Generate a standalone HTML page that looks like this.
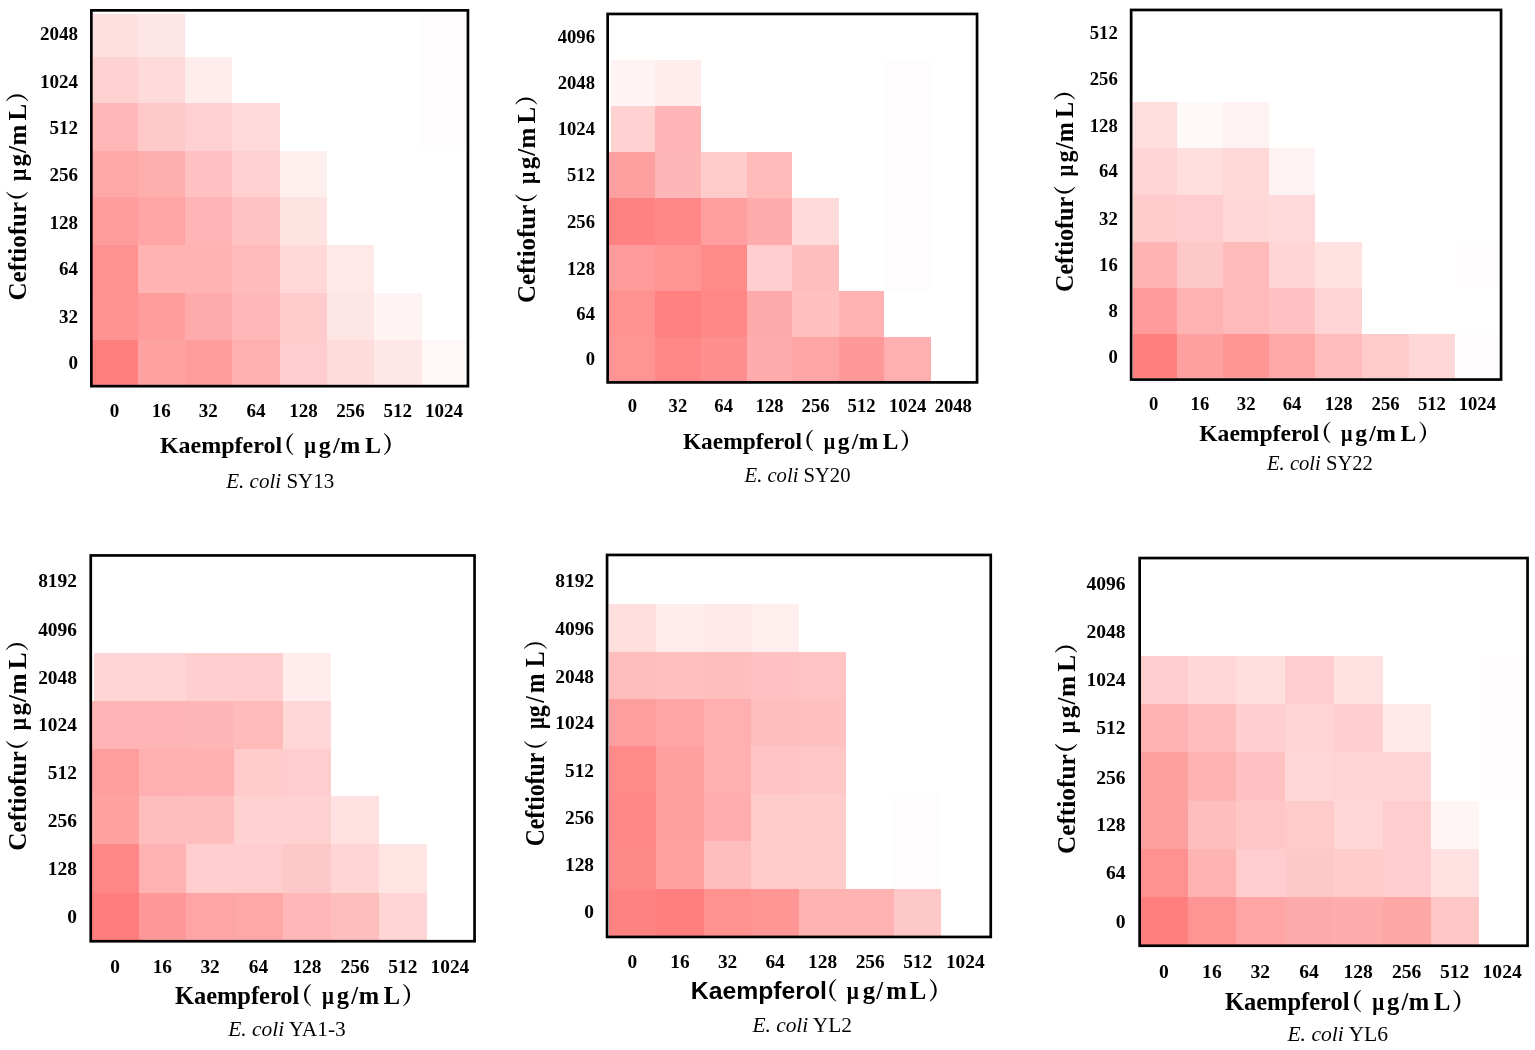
<!DOCTYPE html>
<html><head><meta charset="utf-8"><title>Checkerboard heatmaps</title>
<style>html,body{margin:0;padding:0;background:#fff;overflow:hidden}svg{display:block}</style></head><body>
<div id="fig">
<svg width="1535" height="1050" viewBox="0 0 1535 1050">
<rect width="1535" height="1050" fill="#fff"/>
<g>
<rect x="92.2" y="14" width="45.6" height="43" fill="#ffe0e0" shape-rendering="crispEdges"/>
<rect x="137.8" y="14" width="46.8" height="43" fill="#ffe6e6" shape-rendering="crispEdges"/>
<rect x="421.7" y="14" width="44.7" height="43" fill="#fefcfc" shape-rendering="crispEdges"/>
<rect x="92.2" y="57" width="45.6" height="46.4" fill="#ffd2d2" shape-rendering="crispEdges"/>
<rect x="137.8" y="57" width="46.8" height="46.4" fill="#ffdada" shape-rendering="crispEdges"/>
<rect x="184.6" y="57" width="47.3" height="46.4" fill="#ffeded" shape-rendering="crispEdges"/>
<rect x="421.7" y="57" width="44.7" height="46.4" fill="#fefcfc" shape-rendering="crispEdges"/>
<rect x="92.2" y="103.4" width="45.6" height="47.1" fill="#ffb7b7" shape-rendering="crispEdges"/>
<rect x="137.8" y="103.4" width="46.8" height="47.1" fill="#ffc9c9" shape-rendering="crispEdges"/>
<rect x="184.6" y="103.4" width="47.3" height="47.1" fill="#ffd0d0" shape-rendering="crispEdges"/>
<rect x="231.9" y="103.4" width="48.4" height="47.1" fill="#ffdada" shape-rendering="crispEdges"/>
<rect x="421.7" y="103.4" width="44.7" height="47.1" fill="#fefcfc" shape-rendering="crispEdges"/>
<rect x="92.2" y="150.5" width="45.6" height="46.7" fill="#ffa8a8" shape-rendering="crispEdges"/>
<rect x="137.8" y="150.5" width="46.8" height="46.7" fill="#ffaeae" shape-rendering="crispEdges"/>
<rect x="184.6" y="150.5" width="47.3" height="46.7" fill="#ffc1c1" shape-rendering="crispEdges"/>
<rect x="231.9" y="150.5" width="48.4" height="46.7" fill="#ffd1d1" shape-rendering="crispEdges"/>
<rect x="280.3" y="150.5" width="46.5" height="46.7" fill="#fff0f0" shape-rendering="crispEdges"/>
<rect x="92.2" y="197.2" width="45.6" height="48" fill="#ff9c9c" shape-rendering="crispEdges"/>
<rect x="137.8" y="197.2" width="46.8" height="48" fill="#ffa5a5" shape-rendering="crispEdges"/>
<rect x="184.6" y="197.2" width="47.3" height="48" fill="#ffb5b5" shape-rendering="crispEdges"/>
<rect x="231.9" y="197.2" width="48.4" height="48" fill="#ffc2c2" shape-rendering="crispEdges"/>
<rect x="280.3" y="197.2" width="46.5" height="48" fill="#ffe2e2" shape-rendering="crispEdges"/>
<rect x="92.2" y="245.2" width="45.6" height="47.7" fill="#ff9191" shape-rendering="crispEdges"/>
<rect x="137.8" y="245.2" width="46.8" height="47.7" fill="#ffb3b3" shape-rendering="crispEdges"/>
<rect x="184.6" y="245.2" width="47.3" height="47.7" fill="#ffb3b3" shape-rendering="crispEdges"/>
<rect x="231.9" y="245.2" width="48.4" height="47.7" fill="#ffbbbb" shape-rendering="crispEdges"/>
<rect x="280.3" y="245.2" width="46.5" height="47.7" fill="#ffd8d8" shape-rendering="crispEdges"/>
<rect x="326.8" y="245.2" width="47.2" height="47.7" fill="#ffe8e8" shape-rendering="crispEdges"/>
<rect x="92.2" y="292.9" width="45.6" height="46.6" fill="#ff9393" shape-rendering="crispEdges"/>
<rect x="137.8" y="292.9" width="46.8" height="46.6" fill="#ff9d9d" shape-rendering="crispEdges"/>
<rect x="184.6" y="292.9" width="47.3" height="46.6" fill="#ffabab" shape-rendering="crispEdges"/>
<rect x="231.9" y="292.9" width="48.4" height="46.6" fill="#ffb8b8" shape-rendering="crispEdges"/>
<rect x="280.3" y="292.9" width="46.5" height="46.6" fill="#ffcbcb" shape-rendering="crispEdges"/>
<rect x="326.8" y="292.9" width="47.2" height="46.6" fill="#ffe6e6" shape-rendering="crispEdges"/>
<rect x="374" y="292.9" width="47.7" height="46.6" fill="#fff4f4" shape-rendering="crispEdges"/>
<rect x="92.2" y="339.5" width="45.6" height="45.2" fill="#ff7f7f" shape-rendering="crispEdges"/>
<rect x="137.8" y="339.5" width="46.8" height="45.2" fill="#ffa2a2" shape-rendering="crispEdges"/>
<rect x="184.6" y="339.5" width="47.3" height="45.2" fill="#ff9d9d" shape-rendering="crispEdges"/>
<rect x="231.9" y="339.5" width="48.4" height="45.2" fill="#ffafaf" shape-rendering="crispEdges"/>
<rect x="280.3" y="339.5" width="46.5" height="45.2" fill="#ffcdcd" shape-rendering="crispEdges"/>
<rect x="326.8" y="339.5" width="47.2" height="45.2" fill="#ffdcdc" shape-rendering="crispEdges"/>
<rect x="374" y="339.5" width="47.7" height="45.2" fill="#ffe7e7" shape-rendering="crispEdges"/>
<rect x="421.7" y="339.5" width="44.7" height="45.2" fill="#fff8f8" shape-rendering="crispEdges"/>
<rect x="91.35" y="10.35" width="376.6" height="375.8" fill="none" stroke="#000" stroke-width="2.7"/>
<text x="78" y="40.4" font-family="'Liberation Serif', serif" font-weight="bold" font-size="19" text-anchor="end">2048</text>
<text x="78" y="87.6" font-family="'Liberation Serif', serif" font-weight="bold" font-size="19" text-anchor="end">1024</text>
<text x="78" y="134.3" font-family="'Liberation Serif', serif" font-weight="bold" font-size="19" text-anchor="end">512</text>
<text x="78" y="181" font-family="'Liberation Serif', serif" font-weight="bold" font-size="19" text-anchor="end">256</text>
<text x="78" y="229.1" font-family="'Liberation Serif', serif" font-weight="bold" font-size="19" text-anchor="end">128</text>
<text x="78" y="275.4" font-family="'Liberation Serif', serif" font-weight="bold" font-size="19" text-anchor="end">64</text>
<text x="78" y="322.6" font-family="'Liberation Serif', serif" font-weight="bold" font-size="19" text-anchor="end">32</text>
<text x="78" y="368.9" font-family="'Liberation Serif', serif" font-weight="bold" font-size="19" text-anchor="end">0</text>
<text x="114.4" y="416.5" font-family="'Liberation Serif', serif" font-weight="bold" font-size="19" text-anchor="middle">0</text>
<text x="161.2" y="416.5" font-family="'Liberation Serif', serif" font-weight="bold" font-size="19" text-anchor="middle">16</text>
<text x="208.25" y="416.5" font-family="'Liberation Serif', serif" font-weight="bold" font-size="19" text-anchor="middle">32</text>
<text x="256.1" y="416.5" font-family="'Liberation Serif', serif" font-weight="bold" font-size="19" text-anchor="middle">64</text>
<text x="303.55" y="416.5" font-family="'Liberation Serif', serif" font-weight="bold" font-size="19" text-anchor="middle">128</text>
<text x="350.4" y="416.5" font-family="'Liberation Serif', serif" font-weight="bold" font-size="19" text-anchor="middle">256</text>
<text x="397.85" y="416.5" font-family="'Liberation Serif', serif" font-weight="bold" font-size="19" text-anchor="middle">512</text>
<text x="444.05" y="416.5" font-family="'Liberation Serif', serif" font-weight="bold" font-size="19" text-anchor="middle">1024</text>
<text x="159.9" y="452.6" font-family="'Liberation Serif', serif" font-weight="bold" font-size="24">Kaempferol</text>
<text x="271.78" y="452.6" font-family="'Liberation Serif', 'Noto Serif CJK SC', serif" font-weight="bold" font-size="23">（</text>
<text transform="translate(304.3 452.6) scale(0.86 1)" font-family="'Liberation Serif', serif" font-weight="bold" font-size="24">μ</text>
<text x="318.8" y="452.6" font-family="'Liberation Serif', serif" font-weight="bold" font-size="24">g</text>
<text x="333" y="452.6" font-family="'Liberation Serif', serif" font-weight="bold" font-size="24">/</text>
<text x="340.2" y="452.6" font-family="'Liberation Serif', serif" font-weight="bold" font-size="24">m</text>
<text x="364.9" y="452.6" font-family="'Liberation Serif', serif" font-weight="bold" font-size="24">L</text>
<text x="382.49" y="452.6" font-family="'Liberation Serif', 'Noto Serif CJK SC', serif" font-weight="bold" font-size="23">）</text>
<g transform="translate(25.5 299.5) rotate(-90)"><text transform="translate(-1 0) scale(1 1)" font-family="'Liberation Serif', serif" font-weight="bold" font-size="25">Ceftiofur</text><text transform="translate(86.28 0) scale(1 1)" font-family="'Liberation Serif', 'Noto Serif CJK SC', serif" font-weight="bold" font-size="23">（</text><text transform="translate(118.4 0) scale(0.86 1)" font-family="'Liberation Serif', serif" font-weight="bold" font-size="25">μ</text><text transform="translate(133.1 0) scale(1 1)" font-family="'Liberation Serif', serif" font-weight="bold" font-size="25">g</text><text transform="translate(146.6 0) scale(1 1)" font-family="'Liberation Serif', serif" font-weight="bold" font-size="25">/</text><text transform="translate(154 0) scale(1 1)" font-family="'Liberation Serif', serif" font-weight="bold" font-size="25">m</text><text transform="translate(179.1 0) scale(1 1)" font-family="'Liberation Serif', serif" font-weight="bold" font-size="25">L</text><text transform="translate(196.89 0) scale(1 1)" font-family="'Liberation Serif', 'Noto Serif CJK SC', serif" font-weight="bold" font-size="23">）</text></g>
<text x="226.3" y="487.7" font-family="'Liberation Serif', serif" font-size="21"><tspan font-style="italic">E. coli</tspan> SY13</text>
</g>
<g>
<rect x="611" y="59.9" width="44.2" height="45.9" fill="#fff3f3" shape-rendering="crispEdges"/>
<rect x="655.2" y="59.9" width="45.4" height="45.9" fill="#ffecec" shape-rendering="crispEdges"/>
<rect x="884.4" y="59.9" width="46.5" height="45.9" fill="#fefcfc" shape-rendering="crispEdges"/>
<rect x="611" y="105.8" width="44.2" height="46.1" fill="#ffd2d2" shape-rendering="crispEdges"/>
<rect x="655.2" y="105.8" width="45.4" height="46.1" fill="#ffb5b5" shape-rendering="crispEdges"/>
<rect x="884.4" y="105.8" width="46.5" height="46.1" fill="#fefcfc" shape-rendering="crispEdges"/>
<rect x="609" y="151.9" width="46.2" height="45.7" fill="#ffa0a0" shape-rendering="crispEdges"/>
<rect x="655.2" y="151.9" width="45.4" height="45.7" fill="#ffb6b6" shape-rendering="crispEdges"/>
<rect x="700.6" y="151.9" width="46.1" height="45.7" fill="#ffcbcb" shape-rendering="crispEdges"/>
<rect x="746.7" y="151.9" width="45.7" height="45.7" fill="#ffbaba" shape-rendering="crispEdges"/>
<rect x="884.4" y="151.9" width="46.5" height="45.7" fill="#fefcfc" shape-rendering="crispEdges"/>
<rect x="609" y="197.6" width="46.2" height="47.3" fill="#ff8282" shape-rendering="crispEdges"/>
<rect x="655.2" y="197.6" width="45.4" height="47.3" fill="#ff8787" shape-rendering="crispEdges"/>
<rect x="700.6" y="197.6" width="46.1" height="47.3" fill="#ff9e9e" shape-rendering="crispEdges"/>
<rect x="746.7" y="197.6" width="45.7" height="47.3" fill="#ffacac" shape-rendering="crispEdges"/>
<rect x="792.4" y="197.6" width="46.3" height="47.3" fill="#ffdada" shape-rendering="crispEdges"/>
<rect x="884.4" y="197.6" width="46.5" height="47.3" fill="#fefcfc" shape-rendering="crispEdges"/>
<rect x="609" y="244.9" width="46.2" height="46.1" fill="#ff9b9b" shape-rendering="crispEdges"/>
<rect x="655.2" y="244.9" width="45.4" height="46.1" fill="#ff9494" shape-rendering="crispEdges"/>
<rect x="700.6" y="244.9" width="46.1" height="46.1" fill="#ff8a8a" shape-rendering="crispEdges"/>
<rect x="746.7" y="244.9" width="45.7" height="46.1" fill="#ffcdcd" shape-rendering="crispEdges"/>
<rect x="792.4" y="244.9" width="46.3" height="46.1" fill="#ffbebe" shape-rendering="crispEdges"/>
<rect x="884.4" y="244.9" width="46.5" height="46.1" fill="#fefcfc" shape-rendering="crispEdges"/>
<rect x="609" y="291" width="46.2" height="45.7" fill="#ff9191" shape-rendering="crispEdges"/>
<rect x="655.2" y="291" width="45.4" height="45.7" fill="#ff8080" shape-rendering="crispEdges"/>
<rect x="700.6" y="291" width="46.1" height="45.7" fill="#ff8787" shape-rendering="crispEdges"/>
<rect x="746.7" y="291" width="45.7" height="45.7" fill="#ffaaaa" shape-rendering="crispEdges"/>
<rect x="792.4" y="291" width="46.3" height="45.7" fill="#ffc0c0" shape-rendering="crispEdges"/>
<rect x="838.7" y="291" width="45.7" height="45.7" fill="#ffb2b2" shape-rendering="crispEdges"/>
<rect x="609" y="336.7" width="46.2" height="44.2" fill="#ff9494" shape-rendering="crispEdges"/>
<rect x="655.2" y="336.7" width="45.4" height="44.2" fill="#ff8787" shape-rendering="crispEdges"/>
<rect x="700.6" y="336.7" width="46.1" height="44.2" fill="#ff8e8e" shape-rendering="crispEdges"/>
<rect x="746.7" y="336.7" width="45.7" height="44.2" fill="#ffacac" shape-rendering="crispEdges"/>
<rect x="792.4" y="336.7" width="46.3" height="44.2" fill="#ffa5a5" shape-rendering="crispEdges"/>
<rect x="838.7" y="336.7" width="45.7" height="44.2" fill="#ff9898" shape-rendering="crispEdges"/>
<rect x="884.4" y="336.7" width="46.5" height="44.2" fill="#ffafaf" shape-rendering="crispEdges"/>
<rect x="607.65" y="13.95" width="369.4" height="368.45" fill="none" stroke="#000" stroke-width="2.7"/>
<text x="594.98" y="43.1" font-family="'Liberation Serif', serif" font-weight="bold" font-size="18.64" text-anchor="end">4096</text>
<text x="594.98" y="89.4" font-family="'Liberation Serif', serif" font-weight="bold" font-size="18.64" text-anchor="end">2048</text>
<text x="594.98" y="134.9" font-family="'Liberation Serif', serif" font-weight="bold" font-size="18.64" text-anchor="end">1024</text>
<text x="594.98" y="181.2" font-family="'Liberation Serif', serif" font-weight="bold" font-size="18.64" text-anchor="end">512</text>
<text x="594.98" y="228.3" font-family="'Liberation Serif', serif" font-weight="bold" font-size="18.64" text-anchor="end">256</text>
<text x="594.98" y="274.6" font-family="'Liberation Serif', serif" font-weight="bold" font-size="18.64" text-anchor="end">128</text>
<text x="594.98" y="320" font-family="'Liberation Serif', serif" font-weight="bold" font-size="18.64" text-anchor="end">64</text>
<text x="594.98" y="365.4" font-family="'Liberation Serif', serif" font-weight="bold" font-size="18.64" text-anchor="end">0</text>
<text x="632.5" y="412.2" font-family="'Liberation Serif', serif" font-weight="bold" font-size="18.64" text-anchor="middle">0</text>
<text x="677.9" y="412.2" font-family="'Liberation Serif', serif" font-weight="bold" font-size="18.64" text-anchor="middle">32</text>
<text x="723.65" y="412.2" font-family="'Liberation Serif', serif" font-weight="bold" font-size="18.64" text-anchor="middle">64</text>
<text x="769.55" y="412.2" font-family="'Liberation Serif', serif" font-weight="bold" font-size="18.64" text-anchor="middle">128</text>
<text x="815.55" y="412.2" font-family="'Liberation Serif', serif" font-weight="bold" font-size="18.64" text-anchor="middle">256</text>
<text x="861.55" y="412.2" font-family="'Liberation Serif', serif" font-weight="bold" font-size="18.64" text-anchor="middle">512</text>
<text x="907.65" y="412.2" font-family="'Liberation Serif', serif" font-weight="bold" font-size="18.64" text-anchor="middle">1024</text>
<text x="953.25" y="412.2" font-family="'Liberation Serif', serif" font-weight="bold" font-size="18.64" text-anchor="middle">2048</text>
<text x="682.9" y="448.8" font-family="'Liberation Serif', serif" font-weight="bold" font-size="23.4">Kaempferol</text>
<text x="791.98" y="448.8" font-family="'Liberation Serif', 'Noto Serif CJK SC', serif" font-weight="bold" font-size="22.43">（</text>
<text transform="translate(823.69 448.8) scale(0.86 1)" font-family="'Liberation Serif', serif" font-weight="bold" font-size="23.4">μ</text>
<text x="837.83" y="448.8" font-family="'Liberation Serif', serif" font-weight="bold" font-size="23.4">g</text>
<text x="851.67" y="448.8" font-family="'Liberation Serif', serif" font-weight="bold" font-size="23.4">/</text>
<text x="858.69" y="448.8" font-family="'Liberation Serif', serif" font-weight="bold" font-size="23.4">m</text>
<text x="882.77" y="448.8" font-family="'Liberation Serif', serif" font-weight="bold" font-size="23.4">L</text>
<text x="899.93" y="448.8" font-family="'Liberation Serif', 'Noto Serif CJK SC', serif" font-weight="bold" font-size="22.43">）</text>
<g transform="translate(534.5 302) rotate(-90)"><text transform="translate(-1 0) scale(1 1)" font-family="'Liberation Serif', serif" font-weight="bold" font-size="24.93">Ceftiofur</text><text transform="translate(86.02 0) scale(1 1)" font-family="'Liberation Serif', 'Noto Serif CJK SC', serif" font-weight="bold" font-size="22.93">（</text><text transform="translate(118.04 0) scale(0.86 1)" font-family="'Liberation Serif', serif" font-weight="bold" font-size="24.93">μ</text><text transform="translate(132.7 0) scale(1 1)" font-family="'Liberation Serif', serif" font-weight="bold" font-size="24.93">g</text><text transform="translate(146.16 0) scale(1 1)" font-family="'Liberation Serif', serif" font-weight="bold" font-size="24.93">/</text><text transform="translate(153.54 0) scale(1 1)" font-family="'Liberation Serif', serif" font-weight="bold" font-size="24.93">m</text><text transform="translate(178.56 0) scale(1 1)" font-family="'Liberation Serif', serif" font-weight="bold" font-size="24.93">L</text><text transform="translate(196.3 0) scale(1 1)" font-family="'Liberation Serif', 'Noto Serif CJK SC', serif" font-weight="bold" font-size="22.93">）</text></g>
<text x="744.6" y="481.9" font-family="'Liberation Serif', serif" font-size="20.6"><tspan font-style="italic">E. coli</tspan> SY20</text>
</g>
<g>
<rect x="1132.5" y="102.1" width="44.3" height="46.1" fill="#ffdede" shape-rendering="crispEdges"/>
<rect x="1176.8" y="102.1" width="46.3" height="46.1" fill="#fff8f8" shape-rendering="crispEdges"/>
<rect x="1223.1" y="102.1" width="46.1" height="46.1" fill="#fff2f2" shape-rendering="crispEdges"/>
<rect x="1132.5" y="148.2" width="44.3" height="46.3" fill="#ffd4d4" shape-rendering="crispEdges"/>
<rect x="1176.8" y="148.2" width="46.3" height="46.3" fill="#ffdede" shape-rendering="crispEdges"/>
<rect x="1223.1" y="148.2" width="46.1" height="46.3" fill="#ffd8d8" shape-rendering="crispEdges"/>
<rect x="1269.2" y="148.2" width="45.8" height="46.3" fill="#fff2f2" shape-rendering="crispEdges"/>
<rect x="1132.5" y="194.5" width="44.3" height="47.3" fill="#ffcbcb" shape-rendering="crispEdges"/>
<rect x="1176.8" y="194.5" width="46.3" height="47.3" fill="#ffcdcd" shape-rendering="crispEdges"/>
<rect x="1223.1" y="194.5" width="46.1" height="47.3" fill="#ffd7d7" shape-rendering="crispEdges"/>
<rect x="1269.2" y="194.5" width="45.8" height="47.3" fill="#ffdada" shape-rendering="crispEdges"/>
<rect x="1132.5" y="241.8" width="44.3" height="46.3" fill="#ffb4b4" shape-rendering="crispEdges"/>
<rect x="1176.8" y="241.8" width="46.3" height="46.3" fill="#ffc8c8" shape-rendering="crispEdges"/>
<rect x="1223.1" y="241.8" width="46.1" height="46.3" fill="#ffbaba" shape-rendering="crispEdges"/>
<rect x="1269.2" y="241.8" width="45.8" height="46.3" fill="#ffd5d5" shape-rendering="crispEdges"/>
<rect x="1315" y="241.8" width="47.4" height="46.3" fill="#ffe1e1" shape-rendering="crispEdges"/>
<rect x="1455.1" y="241.8" width="44.5" height="46.3" fill="#fefcfc" shape-rendering="crispEdges"/>
<rect x="1132.5" y="288.1" width="44.3" height="46.2" fill="#ff9b9b" shape-rendering="crispEdges"/>
<rect x="1176.8" y="288.1" width="46.3" height="46.2" fill="#ffb2b2" shape-rendering="crispEdges"/>
<rect x="1223.1" y="288.1" width="46.1" height="46.2" fill="#ffbbbb" shape-rendering="crispEdges"/>
<rect x="1269.2" y="288.1" width="45.8" height="46.2" fill="#ffc1c1" shape-rendering="crispEdges"/>
<rect x="1315" y="288.1" width="47.4" height="46.2" fill="#ffd4d4" shape-rendering="crispEdges"/>
<rect x="1132.5" y="334.3" width="44.3" height="44.1" fill="#ff7f7f" shape-rendering="crispEdges"/>
<rect x="1176.8" y="334.3" width="46.3" height="44.1" fill="#ffa0a0" shape-rendering="crispEdges"/>
<rect x="1223.1" y="334.3" width="46.1" height="44.1" fill="#ff9696" shape-rendering="crispEdges"/>
<rect x="1269.2" y="334.3" width="45.8" height="44.1" fill="#ffa8a8" shape-rendering="crispEdges"/>
<rect x="1315" y="334.3" width="47.4" height="44.1" fill="#ffbcbc" shape-rendering="crispEdges"/>
<rect x="1362.4" y="334.3" width="46.3" height="44.1" fill="#ffcaca" shape-rendering="crispEdges"/>
<rect x="1408.7" y="334.3" width="46.4" height="44.1" fill="#ffd7d7" shape-rendering="crispEdges"/>
<rect x="1455.1" y="334.3" width="44.5" height="44.1" fill="#fefcfc" shape-rendering="crispEdges"/>
<rect x="1131.15" y="9.95" width="369.9" height="369.6" fill="none" stroke="#000" stroke-width="2.7"/>
<text x="1117.78" y="39" font-family="'Liberation Serif', serif" font-weight="bold" font-size="18.66" text-anchor="end">512</text>
<text x="1117.78" y="85.3" font-family="'Liberation Serif', serif" font-weight="bold" font-size="18.66" text-anchor="end">256</text>
<text x="1117.78" y="131.6" font-family="'Liberation Serif', serif" font-weight="bold" font-size="18.66" text-anchor="end">128</text>
<text x="1117.78" y="177" font-family="'Liberation Serif', serif" font-weight="bold" font-size="18.66" text-anchor="end">64</text>
<text x="1117.78" y="225.1" font-family="'Liberation Serif', serif" font-weight="bold" font-size="18.66" text-anchor="end">32</text>
<text x="1117.78" y="271.4" font-family="'Liberation Serif', serif" font-weight="bold" font-size="18.66" text-anchor="end">16</text>
<text x="1117.78" y="316.9" font-family="'Liberation Serif', serif" font-weight="bold" font-size="18.66" text-anchor="end">8</text>
<text x="1117.78" y="363.2" font-family="'Liberation Serif', serif" font-weight="bold" font-size="18.66" text-anchor="end">0</text>
<text x="1153.65" y="409.9" font-family="'Liberation Serif', serif" font-weight="bold" font-size="18.66" text-anchor="middle">0</text>
<text x="1199.95" y="409.9" font-family="'Liberation Serif', serif" font-weight="bold" font-size="18.66" text-anchor="middle">16</text>
<text x="1246.15" y="409.9" font-family="'Liberation Serif', serif" font-weight="bold" font-size="18.66" text-anchor="middle">32</text>
<text x="1292.1" y="409.9" font-family="'Liberation Serif', serif" font-weight="bold" font-size="18.66" text-anchor="middle">64</text>
<text x="1338.7" y="409.9" font-family="'Liberation Serif', serif" font-weight="bold" font-size="18.66" text-anchor="middle">128</text>
<text x="1385.55" y="409.9" font-family="'Liberation Serif', serif" font-weight="bold" font-size="18.66" text-anchor="middle">256</text>
<text x="1431.9" y="409.9" font-family="'Liberation Serif', serif" font-weight="bold" font-size="18.66" text-anchor="middle">512</text>
<text x="1477.35" y="409.9" font-family="'Liberation Serif', serif" font-weight="bold" font-size="18.66" text-anchor="middle">1024</text>
<text x="1199.3" y="441.2" font-family="'Liberation Serif', serif" font-weight="bold" font-size="23.57">Kaempferol</text>
<text x="1309.17" y="441.2" font-family="'Liberation Serif', 'Noto Serif CJK SC', serif" font-weight="bold" font-size="22.59">（</text>
<text transform="translate(1341.1 441.2) scale(0.86 1)" font-family="'Liberation Serif', serif" font-weight="bold" font-size="23.57">μ</text>
<text x="1355.34" y="441.2" font-family="'Liberation Serif', serif" font-weight="bold" font-size="23.57">g</text>
<text x="1369.28" y="441.2" font-family="'Liberation Serif', serif" font-weight="bold" font-size="23.57">/</text>
<text x="1376.35" y="441.2" font-family="'Liberation Serif', serif" font-weight="bold" font-size="23.57">m</text>
<text x="1400.61" y="441.2" font-family="'Liberation Serif', serif" font-weight="bold" font-size="23.57">L</text>
<text x="1417.88" y="441.2" font-family="'Liberation Serif', 'Noto Serif CJK SC', serif" font-weight="bold" font-size="22.59">）</text>
<g transform="translate(1072.6 291.1) rotate(-90)"><text transform="translate(-0.97 0) scale(1 1)" font-family="'Liberation Serif', serif" font-weight="bold" font-size="24.18">Ceftiofur</text><text transform="translate(83.43 0) scale(1 1)" font-family="'Liberation Serif', 'Noto Serif CJK SC', serif" font-weight="bold" font-size="22.24">（</text><text transform="translate(114.49 0) scale(0.86 1)" font-family="'Liberation Serif', serif" font-weight="bold" font-size="24.18">μ</text><text transform="translate(128.71 0) scale(1 1)" font-family="'Liberation Serif', serif" font-weight="bold" font-size="24.18">g</text><text transform="translate(141.76 0) scale(1 1)" font-family="'Liberation Serif', serif" font-weight="bold" font-size="24.18">/</text><text transform="translate(148.92 0) scale(1 1)" font-family="'Liberation Serif', serif" font-weight="bold" font-size="24.18">m</text><text transform="translate(173.19 0) scale(1 1)" font-family="'Liberation Serif', serif" font-weight="bold" font-size="24.18">L</text><text transform="translate(190.39 0) scale(1 1)" font-family="'Liberation Serif', 'Noto Serif CJK SC', serif" font-weight="bold" font-size="22.24">）</text></g>
<text x="1267" y="470.4" font-family="'Liberation Serif', serif" font-size="20.62"><tspan font-style="italic">E. coli</tspan> SY22</text>
</g>
<g>
<rect x="94.1" y="652.9" width="44.6" height="48" fill="#ffd5d5" shape-rendering="crispEdges"/>
<rect x="138.7" y="652.9" width="47.3" height="48" fill="#ffd5d5" shape-rendering="crispEdges"/>
<rect x="186" y="652.9" width="48.2" height="48" fill="#ffcece" shape-rendering="crispEdges"/>
<rect x="234.2" y="652.9" width="48.7" height="48" fill="#ffcece" shape-rendering="crispEdges"/>
<rect x="282.9" y="652.9" width="48.1" height="48" fill="#ffecec" shape-rendering="crispEdges"/>
<rect x="91.9" y="700.9" width="46.8" height="47.9" fill="#ffb5b5" shape-rendering="crispEdges"/>
<rect x="138.7" y="700.9" width="47.3" height="47.9" fill="#ffb5b5" shape-rendering="crispEdges"/>
<rect x="186" y="700.9" width="48.2" height="47.9" fill="#ffb6b6" shape-rendering="crispEdges"/>
<rect x="234.2" y="700.9" width="48.7" height="47.9" fill="#ffbaba" shape-rendering="crispEdges"/>
<rect x="282.9" y="700.9" width="48.1" height="47.9" fill="#ffd7d7" shape-rendering="crispEdges"/>
<rect x="91.9" y="748.8" width="46.8" height="47.2" fill="#ff9e9e" shape-rendering="crispEdges"/>
<rect x="138.7" y="748.8" width="47.3" height="47.2" fill="#ffafaf" shape-rendering="crispEdges"/>
<rect x="186" y="748.8" width="48.2" height="47.2" fill="#ffb0b0" shape-rendering="crispEdges"/>
<rect x="234.2" y="748.8" width="48.7" height="47.2" fill="#ffcbcb" shape-rendering="crispEdges"/>
<rect x="282.9" y="748.8" width="48.1" height="47.2" fill="#ffcdcd" shape-rendering="crispEdges"/>
<rect x="91.9" y="796" width="46.8" height="48.4" fill="#ffa2a2" shape-rendering="crispEdges"/>
<rect x="138.7" y="796" width="47.3" height="48.4" fill="#ffbebe" shape-rendering="crispEdges"/>
<rect x="186" y="796" width="48.2" height="48.4" fill="#ffbebe" shape-rendering="crispEdges"/>
<rect x="234.2" y="796" width="48.7" height="48.4" fill="#ffd2d2" shape-rendering="crispEdges"/>
<rect x="282.9" y="796" width="48.1" height="48.4" fill="#ffd2d2" shape-rendering="crispEdges"/>
<rect x="331" y="796" width="48" height="48.4" fill="#ffe1e1" shape-rendering="crispEdges"/>
<rect x="91.9" y="844.4" width="46.8" height="48.2" fill="#ff8787" shape-rendering="crispEdges"/>
<rect x="138.7" y="844.4" width="47.3" height="48.2" fill="#ffb2b2" shape-rendering="crispEdges"/>
<rect x="186" y="844.4" width="48.2" height="48.2" fill="#ffcdcd" shape-rendering="crispEdges"/>
<rect x="234.2" y="844.4" width="48.7" height="48.2" fill="#ffcdcd" shape-rendering="crispEdges"/>
<rect x="282.9" y="844.4" width="48.1" height="48.2" fill="#ffc8c8" shape-rendering="crispEdges"/>
<rect x="331" y="844.4" width="48" height="48.2" fill="#ffd5d5" shape-rendering="crispEdges"/>
<rect x="379" y="844.4" width="47.7" height="48.2" fill="#ffe4e4" shape-rendering="crispEdges"/>
<rect x="91.9" y="892.6" width="46.8" height="46.9" fill="#ff7d7d" shape-rendering="crispEdges"/>
<rect x="138.7" y="892.6" width="47.3" height="46.9" fill="#ff9898" shape-rendering="crispEdges"/>
<rect x="186" y="892.6" width="48.2" height="46.9" fill="#ffa5a5" shape-rendering="crispEdges"/>
<rect x="234.2" y="892.6" width="48.7" height="46.9" fill="#ffa8a8" shape-rendering="crispEdges"/>
<rect x="282.9" y="892.6" width="48.1" height="46.9" fill="#ffb7b7" shape-rendering="crispEdges"/>
<rect x="331" y="892.6" width="48" height="46.9" fill="#ffbebe" shape-rendering="crispEdges"/>
<rect x="379" y="892.6" width="47.7" height="46.9" fill="#ffd5d5" shape-rendering="crispEdges"/>
<rect x="90.75" y="555.45" width="383.8" height="385.8" fill="none" stroke="#000" stroke-width="2.7"/>
<text x="76.92" y="587.4" font-family="'Liberation Serif', serif" font-weight="bold" font-size="19.36" text-anchor="end">8192</text>
<text x="76.92" y="636.3" font-family="'Liberation Serif', serif" font-weight="bold" font-size="19.36" text-anchor="end">4096</text>
<text x="76.92" y="684.3" font-family="'Liberation Serif', serif" font-weight="bold" font-size="19.36" text-anchor="end">2048</text>
<text x="76.92" y="731.4" font-family="'Liberation Serif', serif" font-weight="bold" font-size="19.36" text-anchor="end">1024</text>
<text x="76.92" y="779.4" font-family="'Liberation Serif', serif" font-weight="bold" font-size="19.36" text-anchor="end">512</text>
<text x="76.92" y="827.4" font-family="'Liberation Serif', serif" font-weight="bold" font-size="19.36" text-anchor="end">256</text>
<text x="76.92" y="875.4" font-family="'Liberation Serif', serif" font-weight="bold" font-size="19.36" text-anchor="end">128</text>
<text x="76.92" y="923.3" font-family="'Liberation Serif', serif" font-weight="bold" font-size="19.36" text-anchor="end">0</text>
<text x="115.05" y="972.9" font-family="'Liberation Serif', serif" font-weight="bold" font-size="19.36" text-anchor="middle">0</text>
<text x="162.35" y="972.9" font-family="'Liberation Serif', serif" font-weight="bold" font-size="19.36" text-anchor="middle">16</text>
<text x="210.1" y="972.9" font-family="'Liberation Serif', serif" font-weight="bold" font-size="19.36" text-anchor="middle">32</text>
<text x="258.55" y="972.9" font-family="'Liberation Serif', serif" font-weight="bold" font-size="19.36" text-anchor="middle">64</text>
<text x="306.95" y="972.9" font-family="'Liberation Serif', serif" font-weight="bold" font-size="19.36" text-anchor="middle">128</text>
<text x="355" y="972.9" font-family="'Liberation Serif', serif" font-weight="bold" font-size="19.36" text-anchor="middle">256</text>
<text x="402.85" y="972.9" font-family="'Liberation Serif', serif" font-weight="bold" font-size="19.36" text-anchor="middle">512</text>
<text x="449.9" y="972.9" font-family="'Liberation Serif', serif" font-weight="bold" font-size="19.36" text-anchor="middle">1024</text>
<text x="174.9" y="1004.4" font-family="'Liberation Serif', serif" font-weight="bold" font-size="24.46">Kaempferol</text>
<text x="288.91" y="1004.4" font-family="'Liberation Serif', 'Noto Serif CJK SC', serif" font-weight="bold" font-size="23.44">（</text>
<text transform="translate(322.04 1004.4) scale(0.86 1)" font-family="'Liberation Serif', serif" font-weight="bold" font-size="24.46">μ</text>
<text x="336.82" y="1004.4" font-family="'Liberation Serif', serif" font-weight="bold" font-size="24.46">g</text>
<text x="351.29" y="1004.4" font-family="'Liberation Serif', serif" font-weight="bold" font-size="24.46">/</text>
<text x="358.63" y="1004.4" font-family="'Liberation Serif', serif" font-weight="bold" font-size="24.46">m</text>
<text x="383.79" y="1004.4" font-family="'Liberation Serif', serif" font-weight="bold" font-size="24.46">L</text>
<text x="401.72" y="1004.4" font-family="'Liberation Serif', 'Noto Serif CJK SC', serif" font-weight="bold" font-size="23.44">）</text>
<g transform="translate(25.9 849.7) rotate(-90)"><text transform="translate(-1.01 0) scale(1 1)" font-family="'Liberation Serif', serif" font-weight="bold" font-size="25.2">Ceftiofur</text><text transform="translate(86.97 0) scale(1 1)" font-family="'Liberation Serif', 'Noto Serif CJK SC', serif" font-weight="bold" font-size="23.18">（</text><text transform="translate(119.35 0) scale(0.86 1)" font-family="'Liberation Serif', serif" font-weight="bold" font-size="25.2">μ</text><text transform="translate(134.16 0) scale(1 1)" font-family="'Liberation Serif', serif" font-weight="bold" font-size="25.2">g</text><text transform="translate(147.77 0) scale(1 1)" font-family="'Liberation Serif', serif" font-weight="bold" font-size="25.2">/</text><text transform="translate(155.23 0) scale(1 1)" font-family="'Liberation Serif', serif" font-weight="bold" font-size="25.2">m</text><text transform="translate(180.53 0) scale(1 1)" font-family="'Liberation Serif', serif" font-weight="bold" font-size="25.2">L</text><text transform="translate(198.47 0) scale(1 1)" font-family="'Liberation Serif', 'Noto Serif CJK SC', serif" font-weight="bold" font-size="23.18">）</text></g>
<text x="228.3" y="1035.7" font-family="'Liberation Serif', serif" font-size="21.4"><tspan font-style="italic">E. coli</tspan> YA1-3</text>
</g>
<g>
<rect x="608.6" y="604.4" width="47.6" height="47.3" fill="#ffdede" shape-rendering="crispEdges"/>
<rect x="656.2" y="604.4" width="47.6" height="47.3" fill="#ffecec" shape-rendering="crispEdges"/>
<rect x="703.8" y="604.4" width="47.6" height="47.3" fill="#ffe9e9" shape-rendering="crispEdges"/>
<rect x="751.4" y="604.4" width="47.4" height="47.3" fill="#ffeeee" shape-rendering="crispEdges"/>
<rect x="608.6" y="651.7" width="47.6" height="47.2" fill="#ffbebe" shape-rendering="crispEdges"/>
<rect x="656.2" y="651.7" width="47.6" height="47.2" fill="#ffc0c0" shape-rendering="crispEdges"/>
<rect x="703.8" y="651.7" width="47.6" height="47.2" fill="#ffbebe" shape-rendering="crispEdges"/>
<rect x="751.4" y="651.7" width="47.4" height="47.2" fill="#ffc1c1" shape-rendering="crispEdges"/>
<rect x="798.8" y="651.7" width="47.6" height="47.2" fill="#ffc3c3" shape-rendering="crispEdges"/>
<rect x="608.6" y="698.9" width="47.6" height="47.3" fill="#ff9e9e" shape-rendering="crispEdges"/>
<rect x="656.2" y="698.9" width="47.6" height="47.3" fill="#ffa5a5" shape-rendering="crispEdges"/>
<rect x="703.8" y="698.9" width="47.6" height="47.3" fill="#ffafaf" shape-rendering="crispEdges"/>
<rect x="751.4" y="698.9" width="47.4" height="47.3" fill="#ffbebe" shape-rendering="crispEdges"/>
<rect x="798.8" y="698.9" width="47.6" height="47.3" fill="#ffc0c0" shape-rendering="crispEdges"/>
<rect x="608.6" y="746.2" width="47.6" height="47.4" fill="#ff8a8a" shape-rendering="crispEdges"/>
<rect x="656.2" y="746.2" width="47.6" height="47.4" fill="#ffa0a0" shape-rendering="crispEdges"/>
<rect x="703.8" y="746.2" width="47.6" height="47.4" fill="#ffafaf" shape-rendering="crispEdges"/>
<rect x="751.4" y="746.2" width="47.4" height="47.4" fill="#ffc3c3" shape-rendering="crispEdges"/>
<rect x="798.8" y="746.2" width="47.6" height="47.4" fill="#ffc6c6" shape-rendering="crispEdges"/>
<rect x="608.6" y="793.6" width="47.6" height="47.6" fill="#ff8787" shape-rendering="crispEdges"/>
<rect x="656.2" y="793.6" width="47.6" height="47.6" fill="#ffa0a0" shape-rendering="crispEdges"/>
<rect x="703.8" y="793.6" width="47.6" height="47.6" fill="#ffadad" shape-rendering="crispEdges"/>
<rect x="751.4" y="793.6" width="47.4" height="47.6" fill="#ffcaca" shape-rendering="crispEdges"/>
<rect x="798.8" y="793.6" width="47.6" height="47.6" fill="#ffcbcb" shape-rendering="crispEdges"/>
<rect x="894" y="793.6" width="47.3" height="47.6" fill="#fefcfc" shape-rendering="crispEdges"/>
<rect x="608.6" y="841.2" width="47.6" height="47.6" fill="#ff8989" shape-rendering="crispEdges"/>
<rect x="656.2" y="841.2" width="47.6" height="47.6" fill="#ffa2a2" shape-rendering="crispEdges"/>
<rect x="703.8" y="841.2" width="47.6" height="47.6" fill="#ffbebe" shape-rendering="crispEdges"/>
<rect x="751.4" y="841.2" width="47.4" height="47.6" fill="#ffcbcb" shape-rendering="crispEdges"/>
<rect x="798.8" y="841.2" width="47.6" height="47.6" fill="#ffcbcb" shape-rendering="crispEdges"/>
<rect x="894" y="841.2" width="47.3" height="47.6" fill="#fefcfc" shape-rendering="crispEdges"/>
<rect x="608.6" y="888.8" width="47.6" height="46.7" fill="#ff8282" shape-rendering="crispEdges"/>
<rect x="656.2" y="888.8" width="47.6" height="46.7" fill="#ff7f7f" shape-rendering="crispEdges"/>
<rect x="703.8" y="888.8" width="47.6" height="46.7" fill="#ff9191" shape-rendering="crispEdges"/>
<rect x="751.4" y="888.8" width="47.4" height="46.7" fill="#ff9696" shape-rendering="crispEdges"/>
<rect x="798.8" y="888.8" width="47.6" height="46.7" fill="#ffb2b2" shape-rendering="crispEdges"/>
<rect x="846.4" y="888.8" width="47.6" height="46.7" fill="#ffb2b2" shape-rendering="crispEdges"/>
<rect x="894" y="888.8" width="47.3" height="46.7" fill="#ffc8c8" shape-rendering="crispEdges"/>
<rect x="607.05" y="554.95" width="383.7" height="382" fill="none" stroke="#000" stroke-width="2.7"/>
<text x="594.02" y="587.4" font-family="'Liberation Serif', serif" font-weight="bold" font-size="19.36" text-anchor="end">8192</text>
<text x="594.02" y="634.6" font-family="'Liberation Serif', serif" font-weight="bold" font-size="19.36" text-anchor="end">4096</text>
<text x="594.02" y="682.6" font-family="'Liberation Serif', serif" font-weight="bold" font-size="19.36" text-anchor="end">2048</text>
<text x="594.02" y="728.9" font-family="'Liberation Serif', serif" font-weight="bold" font-size="19.36" text-anchor="end">1024</text>
<text x="594.02" y="776.9" font-family="'Liberation Serif', serif" font-weight="bold" font-size="19.36" text-anchor="end">512</text>
<text x="594.02" y="824" font-family="'Liberation Serif', serif" font-weight="bold" font-size="19.36" text-anchor="end">256</text>
<text x="594.02" y="871.1" font-family="'Liberation Serif', serif" font-weight="bold" font-size="19.36" text-anchor="end">128</text>
<text x="594.02" y="918.3" font-family="'Liberation Serif', serif" font-weight="bold" font-size="19.36" text-anchor="end">0</text>
<text x="632.4" y="968.3" font-family="'Liberation Serif', serif" font-weight="bold" font-size="19.36" text-anchor="middle">0</text>
<text x="680" y="968.3" font-family="'Liberation Serif', serif" font-weight="bold" font-size="19.36" text-anchor="middle">16</text>
<text x="727.6" y="968.3" font-family="'Liberation Serif', serif" font-weight="bold" font-size="19.36" text-anchor="middle">32</text>
<text x="775.1" y="968.3" font-family="'Liberation Serif', serif" font-weight="bold" font-size="19.36" text-anchor="middle">64</text>
<text x="822.6" y="968.3" font-family="'Liberation Serif', serif" font-weight="bold" font-size="19.36" text-anchor="middle">128</text>
<text x="870.2" y="968.3" font-family="'Liberation Serif', serif" font-weight="bold" font-size="19.36" text-anchor="middle">256</text>
<text x="917.65" y="968.3" font-family="'Liberation Serif', serif" font-weight="bold" font-size="19.36" text-anchor="middle">512</text>
<text x="965.3" y="968.3" font-family="'Liberation Serif', serif" font-weight="bold" font-size="19.36" text-anchor="middle">1024</text>
<text x="690.81" y="998.7" font-family="'Liberation Sans', sans-serif" font-weight="bold" font-size="24.75">Kaempferol</text>
<text x="814.1" y="998.7" font-family="'Liberation Serif', 'Noto Serif CJK SC', serif" font-weight="bold" font-size="23.76">（</text>
<text transform="translate(846.83 998.7) scale(0.86 1)" font-family="'Liberation Serif', serif" font-weight="bold" font-size="24.75">μ</text>
<text x="862.67" y="998.7" font-family="'Liberation Serif', serif" font-weight="bold" font-size="24.75">g</text>
<text x="876.24" y="998.7" font-family="'Liberation Serif', serif" font-weight="bold" font-size="24.75">/</text>
<text x="886.14" y="998.7" font-family="'Liberation Serif', serif" font-weight="bold" font-size="24.75">m</text>
<text x="909.8" y="998.7" font-family="'Liberation Serif', serif" font-weight="bold" font-size="24.75">L</text>
<text x="928.23" y="998.7" font-family="'Liberation Serif', 'Noto Serif CJK SC', serif" font-weight="bold" font-size="23.76">）</text>
<g transform="translate(544.3 845.4) rotate(-90)"><text transform="translate(-0.95 0) scale(0.95 1.06)" font-family="'Liberation Serif', serif" font-weight="bold" font-size="25">Ceftiofur</text><text transform="translate(83.57 0) scale(0.95 1.06)" font-family="'Liberation Serif', 'Noto Serif CJK SC', serif" font-weight="bold" font-size="23">（</text><text transform="translate(116.4 0) scale(0.82 1.06)" font-family="'Liberation Serif', serif" font-weight="bold" font-size="25">μ</text><text transform="translate(128.05 0) scale(0.95 1.06)" font-family="'Liberation Serif', serif" font-weight="bold" font-size="25">g</text><text transform="translate(142.7 0) scale(0.95 1.06)" font-family="'Liberation Serif', serif" font-weight="bold" font-size="25">/</text><text transform="translate(152.05 0) scale(0.95 1.06)" font-family="'Liberation Serif', serif" font-weight="bold" font-size="25">m</text><text transform="translate(178.2 0) scale(0.95 1.06)" font-family="'Liberation Serif', serif" font-weight="bold" font-size="25">L</text><text transform="translate(195.47 0) scale(0.95 1.06)" font-family="'Liberation Serif', 'Noto Serif CJK SC', serif" font-weight="bold" font-size="23">）</text></g>
<text x="752.4" y="1031.8" font-family="'Liberation Serif', serif" font-size="21.4"><tspan font-style="italic">E. coli</tspan> YL2</text>
</g>
<g>
<rect x="1141.2" y="655.7" width="46.7" height="48.2" fill="#ffcdcd" shape-rendering="crispEdges"/>
<rect x="1187.9" y="655.7" width="48" height="48.2" fill="#ffd7d7" shape-rendering="crispEdges"/>
<rect x="1235.9" y="655.7" width="48.7" height="48.2" fill="#ffdede" shape-rendering="crispEdges"/>
<rect x="1284.6" y="655.7" width="48.9" height="48.2" fill="#ffcdcd" shape-rendering="crispEdges"/>
<rect x="1333.5" y="655.7" width="49.1" height="48.2" fill="#ffe1e1" shape-rendering="crispEdges"/>
<rect x="1478.8" y="655.7" width="46.7" height="48.2" fill="#fefcfc" shape-rendering="crispEdges"/>
<rect x="1141.2" y="703.9" width="46.7" height="48" fill="#ffb2b2" shape-rendering="crispEdges"/>
<rect x="1187.9" y="703.9" width="48" height="48" fill="#ffbcbc" shape-rendering="crispEdges"/>
<rect x="1235.9" y="703.9" width="48.7" height="48" fill="#ffcfcf" shape-rendering="crispEdges"/>
<rect x="1284.6" y="703.9" width="48.9" height="48" fill="#ffd4d4" shape-rendering="crispEdges"/>
<rect x="1333.5" y="703.9" width="49.1" height="48" fill="#ffcece" shape-rendering="crispEdges"/>
<rect x="1382.6" y="703.9" width="48" height="48" fill="#ffe9e9" shape-rendering="crispEdges"/>
<rect x="1478.8" y="703.9" width="46.7" height="48" fill="#fefcfc" shape-rendering="crispEdges"/>
<rect x="1141.2" y="751.9" width="46.7" height="48.6" fill="#ffa0a0" shape-rendering="crispEdges"/>
<rect x="1187.9" y="751.9" width="48" height="48.6" fill="#ffb4b4" shape-rendering="crispEdges"/>
<rect x="1235.9" y="751.9" width="48.7" height="48.6" fill="#ffc1c1" shape-rendering="crispEdges"/>
<rect x="1284.6" y="751.9" width="48.9" height="48.6" fill="#ffd7d7" shape-rendering="crispEdges"/>
<rect x="1333.5" y="751.9" width="49.1" height="48.6" fill="#ffd4d4" shape-rendering="crispEdges"/>
<rect x="1382.6" y="751.9" width="48" height="48.6" fill="#ffd5d5" shape-rendering="crispEdges"/>
<rect x="1478.8" y="751.9" width="46.7" height="48.6" fill="#fefcfc" shape-rendering="crispEdges"/>
<rect x="1141.2" y="800.5" width="46.7" height="48.5" fill="#ffa0a0" shape-rendering="crispEdges"/>
<rect x="1187.9" y="800.5" width="48" height="48.5" fill="#ffbebe" shape-rendering="crispEdges"/>
<rect x="1235.9" y="800.5" width="48.7" height="48.5" fill="#ffc6c6" shape-rendering="crispEdges"/>
<rect x="1284.6" y="800.5" width="48.9" height="48.5" fill="#ffcaca" shape-rendering="crispEdges"/>
<rect x="1333.5" y="800.5" width="49.1" height="48.5" fill="#ffd7d7" shape-rendering="crispEdges"/>
<rect x="1382.6" y="800.5" width="48" height="48.5" fill="#ffcdcd" shape-rendering="crispEdges"/>
<rect x="1430.6" y="800.5" width="48.2" height="48.5" fill="#fff5f5" shape-rendering="crispEdges"/>
<rect x="1141.2" y="849" width="46.7" height="48" fill="#ff9191" shape-rendering="crispEdges"/>
<rect x="1187.9" y="849" width="48" height="48" fill="#ffb4b4" shape-rendering="crispEdges"/>
<rect x="1235.9" y="849" width="48.7" height="48" fill="#ffcdcd" shape-rendering="crispEdges"/>
<rect x="1284.6" y="849" width="48.9" height="48" fill="#ffc8c8" shape-rendering="crispEdges"/>
<rect x="1333.5" y="849" width="49.1" height="48" fill="#ffcbcb" shape-rendering="crispEdges"/>
<rect x="1382.6" y="849" width="48" height="48" fill="#ffcdcd" shape-rendering="crispEdges"/>
<rect x="1430.6" y="849" width="48.2" height="48" fill="#ffe1e1" shape-rendering="crispEdges"/>
<rect x="1141.2" y="897" width="46.7" height="48.2" fill="#ff7f7f" shape-rendering="crispEdges"/>
<rect x="1187.9" y="897" width="48" height="48.2" fill="#ff9494" shape-rendering="crispEdges"/>
<rect x="1235.9" y="897" width="48.7" height="48.2" fill="#ffa5a5" shape-rendering="crispEdges"/>
<rect x="1284.6" y="897" width="48.9" height="48.2" fill="#ffaaaa" shape-rendering="crispEdges"/>
<rect x="1333.5" y="897" width="49.1" height="48.2" fill="#ffacac" shape-rendering="crispEdges"/>
<rect x="1382.6" y="897" width="48" height="48.2" fill="#ffa7a7" shape-rendering="crispEdges"/>
<rect x="1430.6" y="897" width="48.2" height="48.2" fill="#ffc6c6" shape-rendering="crispEdges"/>
<rect x="1139.65" y="558.05" width="387.9" height="387.7" fill="none" stroke="#000" stroke-width="2.7"/>
<text x="1125.63" y="590.3" font-family="'Liberation Serif', serif" font-weight="bold" font-size="19.57" text-anchor="end">4096</text>
<text x="1125.63" y="638.3" font-family="'Liberation Serif', serif" font-weight="bold" font-size="19.57" text-anchor="end">2048</text>
<text x="1125.63" y="686.2" font-family="'Liberation Serif', serif" font-weight="bold" font-size="19.57" text-anchor="end">1024</text>
<text x="1125.63" y="734.2" font-family="'Liberation Serif', serif" font-weight="bold" font-size="19.57" text-anchor="end">512</text>
<text x="1125.63" y="783.5" font-family="'Liberation Serif', serif" font-weight="bold" font-size="19.57" text-anchor="end">256</text>
<text x="1125.63" y="831.4" font-family="'Liberation Serif', serif" font-weight="bold" font-size="19.57" text-anchor="end">128</text>
<text x="1125.63" y="879.4" font-family="'Liberation Serif', serif" font-weight="bold" font-size="19.57" text-anchor="end">64</text>
<text x="1125.63" y="928.2" font-family="'Liberation Serif', serif" font-weight="bold" font-size="19.57" text-anchor="end">0</text>
<text x="1163.9" y="977.9" font-family="'Liberation Serif', serif" font-weight="bold" font-size="19.57" text-anchor="middle">0</text>
<text x="1211.9" y="977.9" font-family="'Liberation Serif', serif" font-weight="bold" font-size="19.57" text-anchor="middle">16</text>
<text x="1260.25" y="977.9" font-family="'Liberation Serif', serif" font-weight="bold" font-size="19.57" text-anchor="middle">32</text>
<text x="1309.05" y="977.9" font-family="'Liberation Serif', serif" font-weight="bold" font-size="19.57" text-anchor="middle">64</text>
<text x="1358.05" y="977.9" font-family="'Liberation Serif', serif" font-weight="bold" font-size="19.57" text-anchor="middle">128</text>
<text x="1406.6" y="977.9" font-family="'Liberation Serif', serif" font-weight="bold" font-size="19.57" text-anchor="middle">256</text>
<text x="1454.7" y="977.9" font-family="'Liberation Serif', serif" font-weight="bold" font-size="19.57" text-anchor="middle">512</text>
<text x="1502.15" y="977.9" font-family="'Liberation Serif', serif" font-weight="bold" font-size="19.57" text-anchor="middle">1024</text>
<text x="1224.9" y="1009.9" font-family="'Liberation Serif', serif" font-weight="bold" font-size="24.48">Kaempferol</text>
<text x="1339.02" y="1009.9" font-family="'Liberation Serif', 'Noto Serif CJK SC', serif" font-weight="bold" font-size="23.46">（</text>
<text transform="translate(1372.19 1009.9) scale(0.86 1)" font-family="'Liberation Serif', serif" font-weight="bold" font-size="24.48">μ</text>
<text x="1386.98" y="1009.9" font-family="'Liberation Serif', serif" font-weight="bold" font-size="24.48">g</text>
<text x="1401.46" y="1009.9" font-family="'Liberation Serif', serif" font-weight="bold" font-size="24.48">/</text>
<text x="1408.81" y="1009.9" font-family="'Liberation Serif', serif" font-weight="bold" font-size="24.48">m</text>
<text x="1434" y="1009.9" font-family="'Liberation Serif', serif" font-weight="bold" font-size="24.48">L</text>
<text x="1451.94" y="1009.9" font-family="'Liberation Serif', 'Noto Serif CJK SC', serif" font-weight="bold" font-size="23.46">）</text>
<g transform="translate(1075.1 853.1) rotate(-90)"><text transform="translate(-1.01 0) scale(1 1)" font-family="'Liberation Serif', serif" font-weight="bold" font-size="25.32">Ceftiofur</text><text transform="translate(87.4 0) scale(1 1)" font-family="'Liberation Serif', 'Noto Serif CJK SC', serif" font-weight="bold" font-size="23.3">（</text><text transform="translate(119.94 0) scale(0.86 1)" font-family="'Liberation Serif', serif" font-weight="bold" font-size="25.32">μ</text><text transform="translate(134.83 0) scale(1 1)" font-family="'Liberation Serif', serif" font-weight="bold" font-size="25.32">g</text><text transform="translate(148.51 0) scale(1 1)" font-family="'Liberation Serif', serif" font-weight="bold" font-size="25.32">/</text><text transform="translate(156 0) scale(1 1)" font-family="'Liberation Serif', serif" font-weight="bold" font-size="25.32">m</text><text transform="translate(181.43 0) scale(1 1)" font-family="'Liberation Serif', serif" font-weight="bold" font-size="25.32">L</text><text transform="translate(199.45 0) scale(1 1)" font-family="'Liberation Serif', 'Noto Serif CJK SC', serif" font-weight="bold" font-size="23.3">）</text></g>
<text x="1287.4" y="1041.2" font-family="'Liberation Serif', serif" font-size="21.63"><tspan font-style="italic">E. coli</tspan> YL6</text>
</g>
</svg></div></body></html>
